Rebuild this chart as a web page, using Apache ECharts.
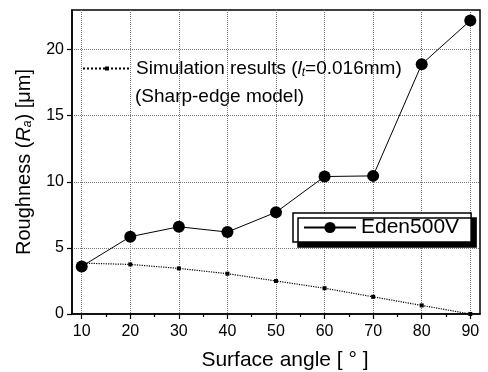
<!DOCTYPE html>
<html><head><meta charset="utf-8">
<script src="https://cdn.jsdelivr.net/npm/echarts@6/dist/echarts.min.js"></script>
<style>html,body{margin:0;padding:0;background:#fff}#c{width:488px;height:372px}</style>
</head><body><div id="c"></div>
<script>
const angles = [10, 20, 30, 40, 50, 60, 70, 80, 90];
const eden500V = [3.6, 5.85, 6.6, 6.2, 7.7, 10.4, 10.45, 18.9, 22.2];
const simulation = [3.85, 3.75, 3.45, 3.05, 2.5, 1.95, 1.3, 0.65, 0];
const xTicks = [10, 20, 30, 40, 50, 60, 70, 80, 90];
const xMinorTicks = [15, 25, 35, 45, 55, 65, 75, 85];
const yTicks = [0, 5, 10, 15, 20];

const FONT = 'Liberation Sans';
const chart = echarts.init(document.getElementById('c'));
const pair = (xs, ys) => xs.map((x, i) => [x, ys[i]]);
chart.setOption({
  animation: false,
  backgroundColor: '#fff',
  grid: { left: 72, right: 8, top: 10, bottom: 58, outerBoundsMode: 'none', containLabel: false, show: true, borderColor: '#000', borderWidth: 1.5, backgroundColor: 'transparent' },
  xAxis: [{
    type: 'value', min: 8, max: 92, interval: 10,
    name: 'Surface angle [ ° ]', nameLocation: 'middle', nameGap: 36,
    nameTextStyle: { fontFamily: FONT, fontSize: 21, color: '#000', padding: [0, 0, 0, 18] },
    axisLine: { lineStyle: { color: '#000', width: 1.5 } },
    axisTick: { customValues: xTicks, length: 5, lineStyle: { color: '#000', width: 1.2 } },
    axisLabel: { customValues: xTicks, margin: 10, fontFamily: FONT, fontSize: 16, color: '#000' },
    splitLine: { show: true, lineStyle: { type: 'dotted', color: '#777', width: 1 } }
  }, {
    type: 'value', min: 8, max: 92, position: 'bottom',
    axisLine: { show: false },
    axisTick: { customValues: xMinorTicks, length: 3, lineStyle: { color: '#000', width: 1.2 } },
    axisLabel: { show: false }, splitLine: { show: false }
  }],
  yAxis: {
    type: 'value', min: 0, max: 23, interval: 5,
    name: '{n|Roughness (}{i|R}{s|a}{n|) [μm]}', nameLocation: 'middle', nameGap: 38,
    nameTextStyle: {
      fontFamily: FONT, fontSize: 20, color: '#000',
      rich: {
        n: { fontFamily: FONT, fontSize: 20, color: '#000' },
        i: { fontFamily: FONT, fontSize: 20, fontStyle: 'italic', color: '#000' },
        s: { fontFamily: FONT, fontSize: 12, fontStyle: 'italic', color: '#000', verticalAlign: 'bottom', padding: [8, 0, 0, 0] }
      }
    },
    axisLine: { lineStyle: { color: '#000', width: 1.5 } },
    axisTick: { customValues: yTicks, length: 5, lineStyle: { color: '#000', width: 1.2 } },
    axisLabel: { customValues: yTicks, margin: 8, fontFamily: FONT, fontSize: 16, color: '#000' },
    splitLine: { show: true, lineStyle: { type: 'dotted', color: '#777', width: 1 } }
  },
  legend: [{
    data: ['Simulation'], left: 82, top: 59, padding: 0, itemWidth: 48, itemHeight: 5,
    formatter: () => '{n|Simulation results (}{i|l}{s|t}{n|=0.016mm)}',
    textStyle: {
      fontFamily: FONT, fontSize: 19, color: '#000',
      rich: {
        n: { fontFamily: FONT, fontSize: 19, color: '#000' },
        i: { fontFamily: FONT, fontSize: 19, fontStyle: 'italic', color: '#000' },
        s: { fontFamily: FONT, fontSize: 12, fontStyle: 'italic', color: '#000', verticalAlign: 'bottom', padding: [9, 0, 0, 0] }
      }
    }
  }, {
    data: ['Eden500V'], left: 293, top: 213, padding: [4, 12, 4, 10], itemWidth: 52, itemHeight: 14,
    backgroundColor: '#fff', borderColor: '#000', borderWidth: 1.5,
    shadowColor: '#000', shadowBlur: 0, shadowOffsetX: 5, shadowOffsetY: 5,
    textStyle: { fontFamily: FONT, fontSize: 21, color: '#000' }
  }],
  graphic: [{
    type: 'text', left: 135, top: 87,
    style: { text: '(Sharp-edge model)', fontFamily: FONT, fontSize: 19, fill: '#000' }
  }],
  series: [{
    name: 'Simulation', type: 'line', xAxisIndex: 0, data: pair(angles, simulation),
    symbol: 'rect', symbolSize: 4, lineStyle: { color: '#000', width: 1.2, type: 'dotted' },
    itemStyle: { color: '#000' }
  }, {
    name: 'Eden500V', type: 'line', xAxisIndex: 0, data: pair(angles, eden500V),
    symbol: 'circle', symbolSize: 12, lineStyle: { color: '#000', width: 1 },
    itemStyle: { color: '#000' }
  }]
});
</script></body></html>
